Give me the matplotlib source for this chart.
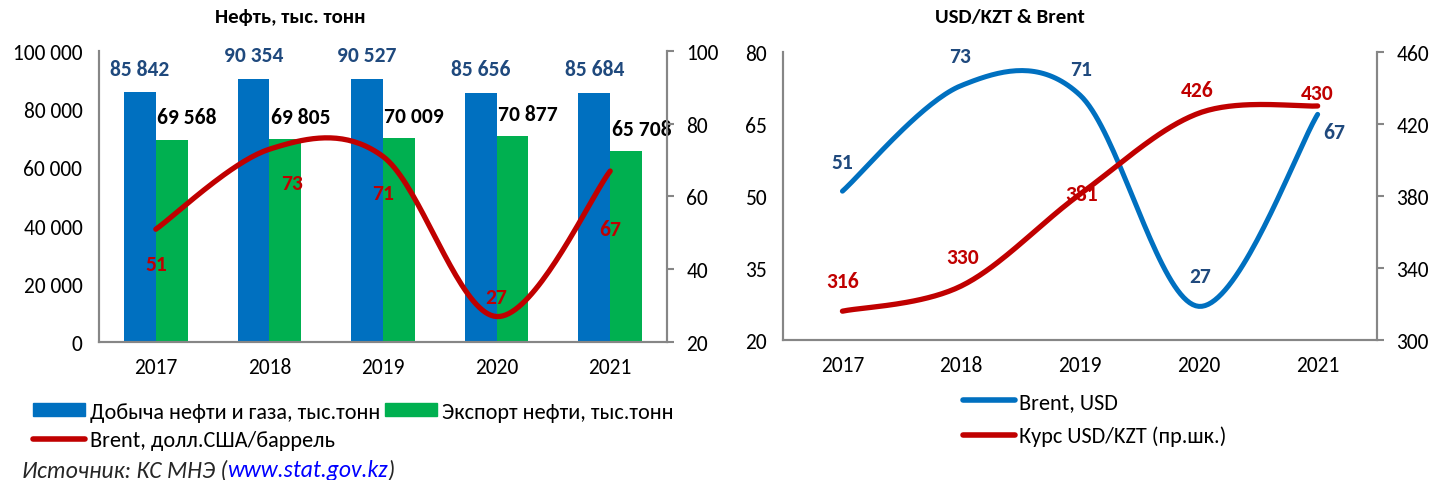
import numpy as np
import matplotlib
matplotlib.use("Agg")
import matplotlib.pyplot as plt
import matplotlib.patches as mpatches
from matplotlib.lines import Line2D
from matplotlib.ticker import FuncFormatter, FixedLocator

plt.rcParams["font.family"] = ["Carlito", "Liberation Sans Narrow", "DejaVu Sans"]

# ── данные ──
years = ["2017", "2018", "2019", "2020", "2021"]
production = [85842, 90354, 90527, 85656, 85684]   # Добыча нефти и газа, тыс.тонн
export = [69568, 69805, 70009, 70877, 65708]       # Экспорт нефти, тыс.тонн
brent = [51, 73, 71, 27, 67]                       # Brent, долл.США/баррель
usd_kzt = [316, 330, 381, 426, 430]                # Курс USD/KZT

BLUE = "#0070C0"
GREEN = "#00B050"
RED = "#C00000"
DARKBLUE = "#1F497D"
SPINE = "#868686"
FS_TICK = 15.5
FS_LBL = 15.5
FS_LEG = 16


def fmt_thousands(v, pos=None):
    return f"{v:,.0f}".replace(",", " ")


def smooth_curve(ax, xs, ys, lo, hi, n=40):
    """Сглаживание как в Excel (Безье по соседним точкам), в пиксельном масштабе осей."""
    bb = ax.get_position()
    fig = ax.figure
    w_px = bb.width * fig.get_figwidth() * fig.dpi
    h_px = bb.height * fig.get_figheight() * fig.dpi
    xl = ax.get_xlim()
    sx = w_px / (xl[1] - xl[0])
    sy = h_px / (hi - lo)
    pts = np.column_stack([np.asarray(xs, float) * sx, (np.asarray(ys, float) - lo) * sy])
    out = []
    t = np.linspace(0, 1, n)[:, None]
    for i in range(len(pts) - 1):
        p0 = pts[i - 1] if i > 0 else pts[i]
        p1, p2 = pts[i], pts[i + 1]
        p3 = pts[i + 2] if i + 2 < len(pts) else pts[i + 1]
        c1 = p1 + (p2 - p0) / 6
        c2 = p2 - (p3 - p1) / 6
        seg = (1 - t) ** 3 * p1 + 3 * (1 - t) ** 2 * t * c1 + 3 * (1 - t) * t ** 2 * c2 + t ** 3 * p2
        out.append(seg if i == 0 else seg[1:])
    out = np.vstack(out)
    return out[:, 0] / sx, out[:, 1] / sy + lo


def style_axes(ax, ax2):
    for a in (ax, ax2):
        a.spines["top"].set_visible(False)
        for s in ("left", "right", "bottom"):
            a.spines[s].set_color(SPINE)
            a.spines[s].set_linewidth(1.5)
    ax.tick_params(axis="y", length=0, labelsize=FS_TICK, pad=12)
    ax.tick_params(axis="x", length=0, labelsize=FS_TICK, pad=10.5)
    ax2.tick_params(axis="y", length=5, width=1.5, color=SPINE, labelsize=FS_TICK, pad=9)


fig = plt.figure(figsize=(14.31, 4.81), dpi=100)

# ═══════════ левый график ═══════════
ax = fig.add_axes([0.0692, 0.2869, 0.3969, 0.605])
ax2 = ax.twinx()
x = np.arange(len(years))
bw = 0.28
ax.bar(x - bw / 2, production, bw, color=BLUE, zorder=2)
ax.bar(x + bw / 2, export, bw, color=GREEN, zorder=2)
ax.set_xlim(-0.5, len(years) - 0.5)
ax.set_ylim(0, 100000)
ax.yaxis.set_major_locator(FixedLocator([0, 20000, 40000, 60000, 80000, 100000]))
ax.yaxis.set_major_formatter(FuncFormatter(fmt_thousands))
ax.set_xticks(x)
ax.set_xticklabels(years)
ax2.set_ylim(20, 100)
ax2.set_yticks([20, 40, 60, 80, 100])
style_axes(ax, ax2)
fig.text(290 / 1431, 1 - 18 / 481, "Нефть, тыс. тонн", fontsize=15, fontweight="bold",
         ha="center", va="center")

for i, v in enumerate(production):
    ax.annotate(fmt_thousands(v), (x[i] - bw / 2, v), xytext=(0, 17), textcoords="offset points",
                ha="center", va="center", fontsize=FS_LBL, fontweight="bold", color=DARKBLUE)
for i, v in enumerate(export):
    ax.annotate(fmt_thousands(v), (x[i] + bw / 2, v), xytext=(11, 16), textcoords="offset points",
                ha="center", va="center", fontsize=FS_LBL, fontweight="bold", color="black")

cx, cy = smooth_curve(ax, x, brent, 20, 100)
ax2.plot(cx, cy, color=RED, lw=3.8, solid_capstyle="round", zorder=3)
brent_off = [(0, -25), (16, -24), (0, -26), (0, 14), (0, -42)]
for i, v in enumerate(brent):
    ax2.annotate(str(v), (x[i], v), xytext=brent_off[i], textcoords="offset points",
                 ha="center", va="center", fontsize=FS_LBL, fontweight="bold", color=RED)

h_left = [mpatches.Patch(color=BLUE, label="Добыча нефти и газа, тыс.тонн"),
          Line2D([0], [0], color=RED, lw=4, solid_capstyle="round", label="Brent, долл.США/баррель"),
          mpatches.Patch(color=GREEN, label="Экспорт нефти, тыс.тонн")]
fig.legend(handles=h_left, loc="upper left", bbox_to_anchor=(0.023, 0.163), ncol=2,
           frameon=False, fontsize=FS_LEG, handlelength=2.35, handleheight=0.55,
           handletextpad=0.22, columnspacing=0.22, labelspacing=0.38, borderaxespad=0,
           borderpad=0)

# источник
ys = 1 - 471 / 481
t1 = fig.text(22 / 1431, ys, "Источник: КС МНЭ (", fontsize=17, style="italic",
              va="center", ha="left", color="#262626")
fig.canvas.draw()
r = fig.canvas.get_renderer()
bb = t1.get_window_extent(r)
t2 = fig.text(bb.x1 / fig.bbox.width, ys, "www.stat.gov.kz", fontsize=17, style="italic",
              va="center", ha="left", color="#0000FF")
bb2 = t2.get_window_extent(r)
fig.text(bb2.x1 / fig.bbox.width, ys, ")", fontsize=17, style="italic",
         va="center", ha="left", color="#262626")

# ═══════════ правый график ═══════════
bx = fig.add_axes([0.5472, 0.2911, 0.4151, 0.5988])
bx2 = bx.twinx()
bx.set_xlim(-0.5, len(years) - 0.5)
bx.set_ylim(20, 80)
bx.set_yticks([20, 35, 50, 65, 80])
bx.set_xticks(x)
bx.set_xticklabels(years)
bx2.set_ylim(300, 460)
bx2.set_yticks([300, 340, 380, 420, 460])
style_axes(bx, bx2)
fig.text(1010 / 1431, 1 - 18 / 481, "USD/KZT & Brent", fontsize=15, fontweight="bold",
         ha="center", va="center")

cx, cy = smooth_curve(bx, x, brent, 20, 80)
bx.plot(cx, cy, color=BLUE, lw=3.6, solid_capstyle="round", zorder=3)
cx, cy = smooth_curve(bx2, x, usd_kzt, 300, 460)
bx2.plot(cx, cy, color=RED, lw=3.8, solid_capstyle="round", zorder=3)

b_off = [(0, 21), (-1, 21), (1, 19), (1, 22), (12, -13)]
for i, v in enumerate(brent):
    bx.annotate(str(v), (x[i], v), xytext=b_off[i], textcoords="offset points",
                ha="center", va="center", fontsize=FS_LBL, fontweight="bold", color=DARKBLUE)
k_off = [(0, 22), (1, 21), (1, 0), (-1, 17), (0, 9)]
for i, v in enumerate(usd_kzt):
    bx2.annotate(str(v), (x[i], v), xytext=k_off[i], textcoords="offset points",
                 ha="center", va="center", fontsize=FS_LBL, fontweight="bold", color=RED)

h_right = [Line2D([0], [0], color=BLUE, lw=4, solid_capstyle="round", label="Brent, USD"),
           Line2D([0], [0], color=RED, lw=4, solid_capstyle="round", label="Курс USD/KZT (пр.шк.)")]
fig.legend(handles=h_right, loc="upper left", bbox_to_anchor=(0.673, 0.183), ncol=1,
           frameon=False, fontsize=FS_LEG, handlelength=2.35, handletextpad=0.15,
           labelspacing=0.62, borderaxespad=0, borderpad=0)

fig.savefig("out.png", dpi=100)
